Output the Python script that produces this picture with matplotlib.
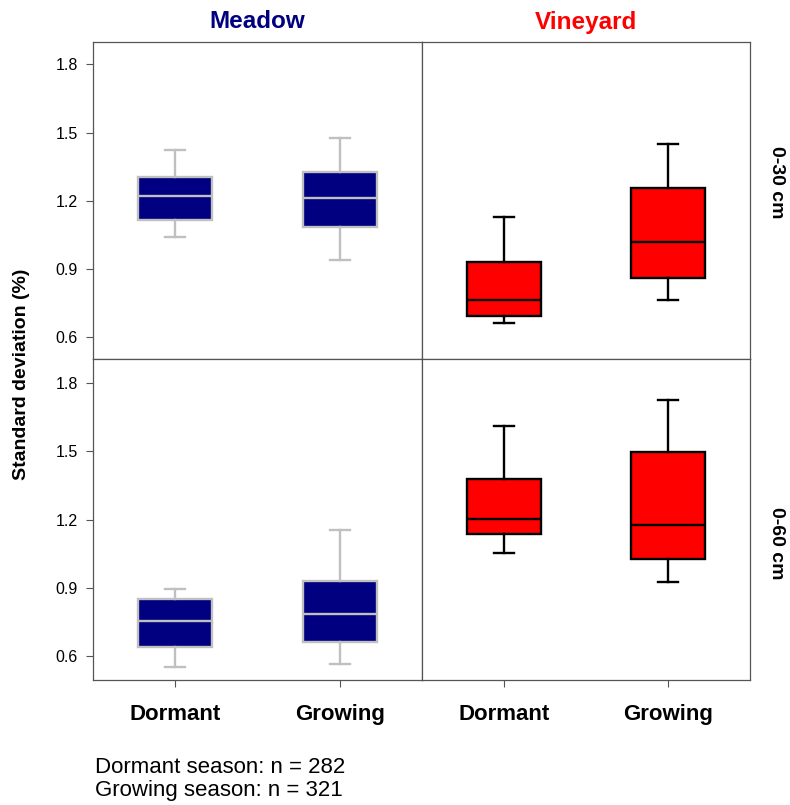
import matplotlib.pyplot as plt

plt.rcParams["font.family"] = ["Liberation Sans", "DejaVu Sans"]

# box statistics: whislo, q1, med, q3, whishi
seasons = ["Dormant", "Growing"]
meadow_0_30 = [[1.042, 1.117, 1.223, 1.306, 1.423], [0.939, 1.085, 1.212, 1.328, 1.476]]
vineyard_0_30 = [[0.664, 0.693, 0.766, 0.933, 1.127], [0.765, 0.861, 1.019, 1.258, 1.451]]
meadow_0_60 = [[0.553, 0.640, 0.754, 0.849, 0.896], [0.564, 0.662, 0.785, 0.931, 1.152]]
vineyard_0_60 = [[1.051, 1.136, 1.204, 1.377, 1.611], [0.925, 1.025, 1.177, 1.495, 1.727]]
yticks = [0.6, 0.9, 1.2, 1.5, 1.8]


def make_stats(rows):
    out = []
    for lo, q1, med, q3, hi in rows:
        out.append(dict(whislo=lo, q1=q1, med=med, q3=q3, whishi=hi, fliers=[]))
    return out


def draw(ax, rows, face, edge):
    ax.bxp(make_stats(rows), positions=[1, 2], widths=0.45, capwidths=0.12,
           showfliers=False, patch_artist=True,
           boxprops=dict(facecolor=face, edgecolor=edge, linewidth=1.7),
           medianprops=dict(color=edge, linewidth=1.7),
           whiskerprops=dict(color=edge, linewidth=1.7),
           capprops=dict(color=edge, linewidth=1.7))
    ax.set_xlim(0.5, 2.5)
    for s in ax.spines.values():
        s.set_color("#555555")
        s.set_linewidth(0.9)


fig = plt.figure(figsize=(7.9, 8.05), dpi=100)
x0, xm, x1 = 93 / 790, 422 / 790, 750 / 790
yt, ym, yb = 1 - 42 / 805, 1 - 359 / 805, 1 - 680 / 805

ax_tl = fig.add_axes([x0, ym, xm - x0, yt - ym])
ax_tr = fig.add_axes([xm, ym, x1 - xm, yt - ym])
ax_bl = fig.add_axes([x0, yb, xm - x0, ym - yb])
ax_br = fig.add_axes([xm, yb, x1 - xm, ym - yb])

draw(ax_tl, meadow_0_30, "#000080", "#c0c0c0")
draw(ax_tr, vineyard_0_30, "#ff0000", "black")
draw(ax_bl, meadow_0_60, "#000080", "#c0c0c0")
draw(ax_br, vineyard_0_60, "#ff0000", "black")

for ax in [ax_tl, ax_tr]:
    ax.set_ylim(0.505, 1.898)
for ax in [ax_bl, ax_br]:
    ax.set_ylim(0.495, 1.905)

for ax in [ax_tl, ax_bl]:
    ax.set_yticks(yticks)
    ax.set_yticklabels([f"{v:.1f}" for v in yticks], fontsize=11.5)
    ax.tick_params(axis="y", direction="out", length=5, color="#555555", pad=6)
for ax in [ax_tr, ax_br]:
    ax.set_yticks([])
for ax in [ax_tl, ax_tr]:
    ax.set_xticks([])
for ax in [ax_bl, ax_br]:
    ax.set_xticks([1, 2])
    ax.set_xticklabels(seasons, fontsize=16, fontweight="bold")
    ax.tick_params(axis="x", direction="out", length=5, color="#555555", pad=12)

fig.text((x0 + xm) / 2, 1 - 22 / 805, "Meadow", color="#000080", fontsize=17.5,
         fontweight="bold", ha="center", va="center")
fig.text((xm + x1) / 2, 1 - 22 / 805, "Vineyard", color="#ff0000", fontsize=17.5,
         fontweight="bold", ha="center", va="center")
fig.text(776 / 790, 1 - 182 / 805, "0-30 cm", fontsize=14, fontweight="bold",
         rotation=-90, ha="center", va="center")
fig.text(776 / 790, 1 - 543 / 805, "0-60 cm", fontsize=14, fontweight="bold",
         rotation=-90, ha="center", va="center")
fig.text(22 / 790, 1 - 374 / 805, "Standard deviation (%)", fontsize=14,
         fontweight="bold", rotation=90, ha="center", va="center")
fig.text(95 / 790, 1 - 767 / 805, "Dormant season: n = 282", fontsize=16,
         ha="left", va="center")
fig.text(95 / 790, 1 - 790 / 805, "Growing season: n = 321", fontsize=16,
         ha="left", va="center")

fig.savefig("out.png", dpi=100)
